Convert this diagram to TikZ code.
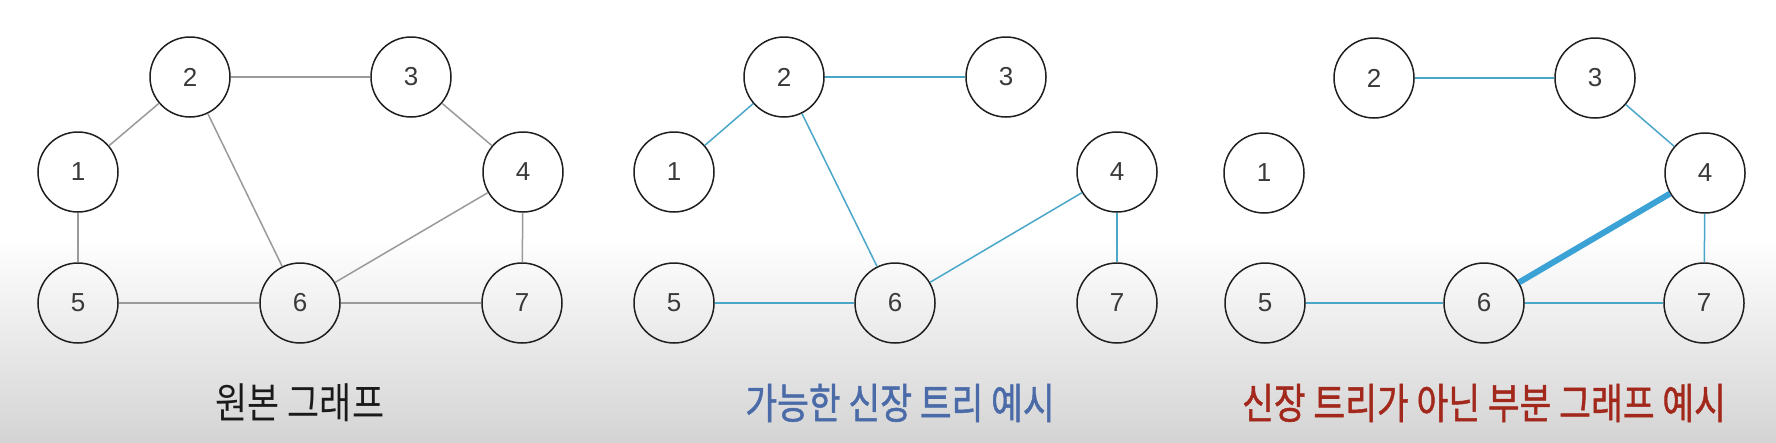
\documentclass[tikz,border=0pt]{standalone}
\usepackage{fontspec}
\setmainfont{Liberation Sans}
\newfontfamily\krfont{Noto Sans CJK KR}
\newfontfamily\krmed[FakeBold=1.2]{Noto Sans CJK KR}
\usepackage{graphicx}
\definecolor{bgbottom}{HTML}{D4D4D4}
\definecolor{edgegray}{HTML}{9A9A9A}
\definecolor{edgeblue}{HTML}{4BA7C9}
\definecolor{thickblue}{HTML}{3BA2D6}
\definecolor{titleblue}{HTML}{4A6BA8}
\definecolor{titlered}{HTML}{A3281C}
\definecolor{titleblack}{HTML}{1A1A1A}
\definecolor{digit}{HTML}{3A3A3A}
\tikzset{
  vtx/.style={circle, draw=black!88, line width=1.5pt, minimum size=80pt, inner sep=0pt,
    font=\fontsize{26}{28}\selectfont, text=digit},
  grayedge/.style={draw=edgegray, line width=1.5pt},
  blueedge/.style={draw=edgeblue, line width=1.5pt},
  thickedge/.style={draw=thickblue, line width=6pt},
  title/.style={inner sep=0pt, anchor=center},
}
\newcommand{\krtitle}[1]{\scalebox{0.97}[1.17]{\krfont\fontsize{36}{40}\selectfont #1}}
\newcommand{\krtitlemed}[1]{\scalebox{0.96}[1.17]{\krmed\fontsize{36}{40}\selectfont #1}}
\begin{document}
\begin{tikzpicture}[x=1pt,y=-1pt]
\useasboundingbox (0,0) rectangle (1776,442);
\fill[white] (0,0) rectangle (1776,238);
\shade[top color=white, bottom color=bgbottom] (0,237) rectangle (1776,442);
% Panel 1
\node[vtx] (a1) at (78,172) {1};
\node[vtx] (a2) at (190,77) {2};
\node[vtx] (a3) at (411,77) {3};
\node[vtx] (a4) at (523,172) {4};
\node[vtx] (a5) at (78,303) {5};
\node[vtx] (a6) at (300,303) {6};
\node[vtx] (a7) at (522,303) {7};
\draw[grayedge] (a1) -- (a2);
\draw[grayedge] (a2) -- (a3);
\draw[grayedge] (a2) -- (a6);
\draw[grayedge] (a3) -- (a4);
\draw[grayedge] (a4) -- (a6);
\draw[grayedge] (a4) -- (a7);
\draw[grayedge] (a1) -- (a5);
\draw[grayedge] (a5) -- (a6);
\draw[grayedge] (a6) -- (a7);
\node[title, text=titleblack] (t1) at (300,403) {\krtitle{원본 그래프}};
% Panel 2
\node[vtx] (b1) at (674,172) {1};
\node[vtx] (b2) at (784,77) {2};
\node[vtx] (b3) at (1006,77) {3};
\node[vtx] (b4) at (1117,172) {4};
\node[vtx] (b5) at (674,303) {5};
\node[vtx] (b6) at (895,303) {6};
\node[vtx] (b7) at (1117,303) {7};
\draw[blueedge] (b1) -- (b2);
\draw[blueedge] (b2) -- (b3);
\draw[blueedge] (b2) -- (b6);
\draw[blueedge] (b6) -- (b4);
\draw[blueedge] (b4) -- (b7);
\draw[blueedge] (b5) -- (b6);
\node[title, text=titleblue] (t2) at (900,403) {\krtitlemed{가능한 신장 트리 예시}};
% Panel 3
\node[vtx] (c1) at (1264,173) {1};
\node[vtx] (c2) at (1374,78) {2};
\node[vtx] (c3) at (1595,78) {3};
\node[vtx] (c4) at (1705,173) {4};
\node[vtx] (c5) at (1265,303) {5};
\node[vtx] (c6) at (1484,303) {6};
\node[vtx] (c7) at (1704,303) {7};
\draw[blueedge] (c2) -- (c3);
\draw[blueedge] (c3) -- (c4);
\draw[thickedge] (c6) -- (c4);
\draw[blueedge] (c4) -- (c7);
\draw[blueedge] (c5) -- (c6);
\draw[blueedge] (c6) -- (c7);
\node[title, text=titlered] (t3) at (1484,403) {\krtitlemed{신장 트리가 아닌 부분 그래프 예시}};
\end{tikzpicture}
\end{document}
